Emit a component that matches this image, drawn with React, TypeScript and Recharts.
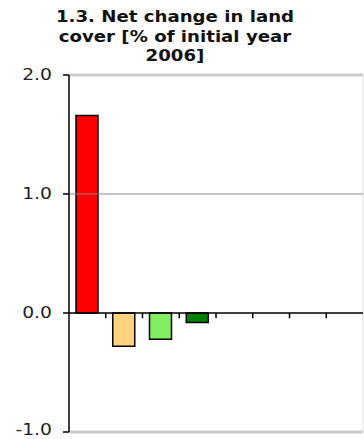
import { Bar, BarChart, Cell, ReferenceLine, XAxis, YAxis } from 'recharts'

// land cover classes, net change as % of 2006 area
const classes = ['Artificial', 'Arable', 'Grassland', 'Forest', 'Shrub', 'Open', 'Wetland', 'Water']
const changes: (number | null)[] = [1.66, -0.28, -0.22, -0.08, null, null, null, null]
const fills = ['#ff0000', '#ffd280', '#80ee60', '#008000', '#cccccc', '#cccccc', '#cccccc', '#cccccc']
const yTicks = [-1, 0, 1, 2]
const boundaries = [1, 2, 3, 4, 5, 6, 7]

const data = classes.map((name, i) => ({ name, value: changes[i], pos: i + 0.5 }))

const font = '"DejaVu Sans", Verdana, sans-serif'

// wide tick labels, stretched about their right edge
function YTick(props: any) {
  const { x, payload } = props
  // keep the bottom label inside the svg
  const y = payload.value === -1 ? props.y - 2 : props.y
  return (
    <text
      x={x}
      y={y}
      dy="0.36em"
      textAnchor="end"
      fill="#222"
      fontSize={15}
      fontFamily={font}
      transform={`translate(${x} ${y}) scale(1.25 1) translate(${-x} ${-y})`}
    >
      {Number(payload.value).toFixed(1)}
    </text>
  )
}

export default function App() {
  return (
    <div style={{ position: 'absolute', left: 0, top: 0, width: 364, height: 439, background: '#fff' }}>
      <div
        style={{
          position: 'absolute',
          left: 0,
          top: 8,
          width: 350,
          textAlign: 'center',
          fontFamily: font,
          fontWeight: 'bold',
          fontSize: 15,
          lineHeight: '19.5px',
          color: '#111',
          transform: 'scaleX(1.21)',
          transformOrigin: '175px 0',
        }}
      >
        1.3. Net change in land
        <br />
        cover [% of initial year
        <br />
        2006]
      </div>
      <BarChart
        width={364}
        height={439}
        data={data}
        margin={{ top: 75, right: 1, bottom: 7, left: 0 }}
        barSize={22}
      >
        <XAxis dataKey="name" hide />
        <XAxis xAxisId="n" dataKey="pos" type="number" domain={[0, 8]} allowDataOverflow hide />
        <YAxis
          domain={[-1, 2]}
          ticks={yTicks}
          interval={0}
          width={69}
          axisLine={{ stroke: '#000', strokeWidth: 1.5 }}
          tickLine={{ stroke: '#000', strokeWidth: 1.5 }}
          tickSize={6}
          tickMargin={11}
          tick={<YTick />}
          allowDataOverflow
        />
        {/* plot frame */}
        <ReferenceLine y={2} stroke="#cccccc" strokeWidth={3} />
        <ReferenceLine y={-1} stroke="#cccccc" strokeWidth={3} />
        <ReferenceLine xAxisId="n" x={8} stroke="#dddddd" strokeWidth={1} />
        <ReferenceLine y={1} stroke="#888888" strokeWidth={1} />
        <Bar dataKey="value" stroke="#000" strokeWidth={1.5} isAnimationActive={false}>
          {data.map((d, i) => (
            <Cell key={d.name} fill={fills[i]} />
          ))}
        </Bar>
        <ReferenceLine y={0} stroke="#000" strokeWidth={1.5} />
        {boundaries.map((b) => (
          <ReferenceLine
            key={b}
            xAxisId="n"
            segment={[
              { x: b, y: 0 },
              { x: b, y: -0.045 },
            ]}
            stroke="#000"
            strokeWidth={1.5}
          />
        ))}
      </BarChart>
    </div>
  )
}
